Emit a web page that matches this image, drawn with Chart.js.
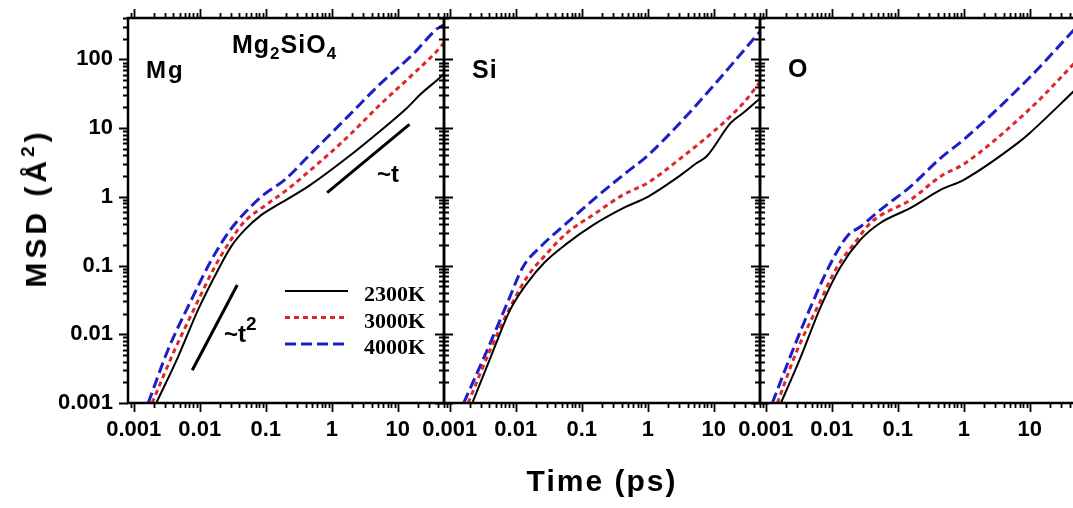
<!DOCTYPE html>
<html lang="en">
<head>
    <meta charset="UTF-8">
    <title>MSD Mg2SiO4</title>
    <style>
        body {
            margin: 0;
            width: 1073px;
            height: 508px;
            overflow: hidden;
            position: relative;
            background: #fff;
            font-family: "Liberation Sans", Arial, sans-serif;
        }

        canvas {
            position: absolute;
            top: 0;
        }

        .lbl {
            position: absolute;
            font-weight: bold;
            line-height: 1;
            color: #000;
            white-space: nowrap;
        }

        .lbl sub {
            font-size: 17px;
            vertical-align: -6px;
            line-height: 0;
        }

        .lbl sup {
            font-size: 19px;
            vertical-align: 12px;
            line-height: 0;
        }

        #ytitle {
            left: 36px;
            top: 208px;
            font-size: 30px;
            letter-spacing: 4px;
            transform: translate(-50%, -50%) rotate(-90deg);
        }

        #xtitle {
            left: 602px;
            top: 466px;
            font-size: 30px;
            letter-spacing: 2px;
            transform: translateX(-50%);
        }
    </style>
    <script src="https://cdn.jsdelivr.net/npm/chart.js"></script>
</head>
<body>
    <canvas id="mg" width="460" height="508" style="left:0px"></canvas>
    <canvas id="si" width="376" height="508" style="left:400px"></canvas>
    <canvas id="ox" width="376" height="508" style="left:716px"></canvas>

    <div class="lbl" style="left:146px; top:58px; font-size:24px; letter-spacing:2px">Mg</div>
    <div class="lbl" style="left:232px; top:32px; font-size:25px; letter-spacing:1px">Mg<sub>2</sub>SiO<sub>4</sub></div>
    <div class="lbl" style="left:472px; top:57px; font-size:25px; letter-spacing:1px">Si</div>
    <div class="lbl" style="left:788px; top:56px; font-size:25px">O</div>
    <div class="lbl" style="left:377px; top:162px; font-size:24px">~t</div>
    <div class="lbl" style="left:224px; top:322px; font-size:24px">~t<sup>2</sup></div>
    <div class="lbl" id="ytitle">MSD (Å<sup>2</sup>)</div>
    <div class="lbl" id="xtitle">Time (ps)</div>

    <script>
        // tick labels
        const xTickLabels = [0.001, 0.01, 0.1, 1, 10];
        const yTickLabels = [0.001, 0.01, 0.1, 1, 10, 100];
        const tempLabels = ['2300K', '3000K', '4000K'];

        // Mg
        const mgT2300 = [0.0022, 0.0047, 0.0095, 0.019, 0.030, 0.048, 0.087, 0.16, 0.44, 1.7, 5.4, 14, 22, 44, 50];
        const mgM2300 = [0.001, 0.0047, 0.023, 0.087, 0.19, 0.33, 0.55, 0.79, 1.42, 3.7, 9.1, 20, 31, 55, 62];
        const mgT3000 = [0.0019, 0.004, 0.0085, 0.017, 0.030, 0.048, 0.087, 0.195, 0.5, 1.7, 5.4, 17, 44, 50];
        const mgM3000 = [0.001, 0.0054, 0.025, 0.097, 0.24, 0.44, 0.69, 1.2, 2.55, 7.3, 22, 61, 150, 175];
        const mgT4000 = [0.00166, 0.0033, 0.0075, 0.015, 0.027, 0.043, 0.087, 0.195, 0.5, 1.7, 5.4, 17, 39, 50];
        const mgM4000 = [0.001, 0.0059, 0.032, 0.12, 0.30, 0.52, 1.02, 1.78, 4.4, 14.3, 44, 119, 277, 320];

        // Si
        const siT2300 = [0.0022, 0.0046, 0.0083, 0.015, 0.027, 0.06, 0.15, 0.43, 1, 3, 5.5, 7.8, 18, 28, 50];
        const siM2300 = [0.001, 0.0059, 0.023, 0.056, 0.11, 0.21, 0.39, 0.69, 1.0, 2.0, 3.1, 3.9, 11.9, 16.7, 27];
        const siT3000 = [0.0019, 0.0041, 0.0083, 0.015, 0.027, 0.06, 0.15, 0.43, 1, 3.1, 10, 18, 30, 50];
        const siM3000 = [0.001, 0.0059, 0.025, 0.069, 0.136, 0.30, 0.55, 1.08, 1.6, 3.6, 9, 15, 25, 47];
        const siT4000 = [0.00163, 0.0037, 0.0074, 0.013, 0.024, 0.06, 0.15, 0.43, 1, 3.1, 10, 50];
        const siM4000 = [0.001, 0.0059, 0.028, 0.097, 0.19, 0.42, 0.91, 2.1, 4.0, 12, 42, 255];

        // O
        const oT2300 = [0.0017, 0.0034, 0.0068, 0.0137, 0.0275, 0.055, 0.157, 0.45, 1, 6.6, 10, 50];
        const oM2300 = [0.001, 0.0047, 0.025, 0.097, 0.24, 0.42, 0.69, 1.27, 1.77, 6.1, 8.5, 37];
        const oT3000 = [0.0015, 0.003, 0.0061, 0.0122, 0.022, 0.039, 0.157, 0.45, 1, 10, 50];
        const oM3000 = [0.001, 0.0059, 0.025, 0.097, 0.21, 0.42, 0.91, 2.0, 3.0, 19, 93];
        const oT4000 = [0.00126, 0.0027, 0.0048, 0.0097, 0.0173, 0.0275, 0.055, 0.157, 0.45, 1, 10, 50];
        const oM4000 = [0.001, 0.0066, 0.025, 0.109, 0.27, 0.37, 0.65, 1.42, 3.7, 6.8, 55, 290];

        // guide lines ~t^2 and ~t
        const t2LineT = [0.0077, 0.037];
        const t2LineM = [0.0030, 0.052];
        const t1LineT = [0.85, 15];
        const t1LineM = [1.15, 11.3];

        const styles = [
            { color: '#000000', dash: [], width: 2 },
            { color: '#e0262b', dash: [5, 4], width: 3 },
            { color: '#1c1fc9', dash: [11, 5], width: 3 }
        ];

        function series(t, m, st) {
            return {
                data: t.map((v, i) => ({ x: v, y: m[i] })),
                borderColor: st.color,
                borderDash: st.dash,
                borderWidth: st.width,
                pointRadius: 0,
                fill: false,
                cubicInterpolationMode: 'monotone'
            };
        }

        function guide(t, m) {
            return {
                data: t.map((v, i) => ({ x: v, y: m[i] })),
                borderColor: '#000',
                borderWidth: 3,
                pointRadius: 0,
                fill: false
            };
        }

        // frame with log ticks on all four sides, pointing out
        const frameTicks = {
            id: 'frameTicks',
            afterDraw(chart) {
                const { ctx, chartArea: a } = chart;
                const x = chart.scales.x, y = chart.scales.y;
                ctx.save();
                ctx.strokeStyle = '#000';
                ctx.lineWidth = 1.8;
                ctx.beginPath();
                for (let d = -4; d <= 3; d++) {
                    for (let m = 1; m <= 9; m++) {
                        const v = m * Math.pow(10, d);
                        const len = m === 1 ? 9 : 5;
                        if (v >= x.min && v <= x.max) {
                            const px = Math.round(x.getPixelForValue(v)) + 0.5;
                            ctx.moveTo(px, a.bottom); ctx.lineTo(px, a.bottom + len);
                            ctx.moveTo(px, a.top); ctx.lineTo(px, a.top - len);
                        }
                        if (v >= y.min && v <= y.max) {
                            const py = Math.round(y.getPixelForValue(v)) + 0.5;
                            ctx.moveTo(a.left, py); ctx.lineTo(a.left - len, py);
                            ctx.moveTo(a.right, py); ctx.lineTo(a.right + len, py);
                        }
                    }
                }
                ctx.stroke();
                ctx.lineWidth = 2.5;
                ctx.strokeRect(a.left, a.top, a.right - a.left, a.bottom - a.top);
                ctx.restore();
            }
        };

        const tempLegend = {
            id: 'tempLegend',
            afterDatasetsDraw(chart) {
                const { ctx, chartArea: a } = chart;
                ctx.save();
                ctx.font = 'bold 22px "Liberation Serif", "Times New Roman", serif';
                ctx.fillStyle = '#000';
                ctx.textBaseline = 'alphabetic';
                tempLabels.forEach((txt, i) => {
                    const ly = a.top + 273 + i * 26.5;
                    const st = styles[i];
                    ctx.strokeStyle = st.color;
                    ctx.lineWidth = st.width;
                    ctx.setLineDash(st.dash);
                    ctx.beginPath();
                    ctx.moveTo(a.left + 157, ly);
                    ctx.lineTo(a.left + 220, ly);
                    ctx.stroke();
                    ctx.fillText(txt, a.left + 236, ly + 10);
                });
                ctx.restore();
            }
        };

        const tickFont = { family: '"Liberation Sans", Arial, sans-serif', size: 22, weight: 'bold' };

        function makeChart(id, sets, showY, padLeft, extraPlugins) {
            const ctx = document.getElementById(id).getContext('2d');
            return new Chart(ctx, {
                type: 'line',
                data: { datasets: sets },
                options: {
                    responsive: false,
                    animation: false,
                    layout: { padding: { left: padLeft, right: 16, top: 18, bottom: 0 } },
                    plugins: { legend: { display: false }, tooltip: { enabled: false } },
                    scales: {
                        x: {
                            type: 'logarithmic',
                            min: 0.00082,
                            max: 50,
                            afterBuildTicks: s => { s.ticks = xTickLabels.map(v => ({ value: v })); },
                            afterFit: s => { s.height = 105; },
                            grid: { display: false, drawTicks: false },
                            border: { display: false },
                            ticks: {
                                color: '#000', font: tickFont, padding: 14,
                                maxRotation: 0, autoSkip: false,
                                callback: v => String(v)
                            }
                        },
                        y: {
                            type: 'logarithmic',
                            display: showY,
                            min: 0.001,
                            max: 400,
                            afterBuildTicks: s => { s.ticks = yTickLabels.map(v => ({ value: v })); },
                            afterFit: s => { s.width = showY ? 128 : 0; },
                            grid: { display: false, drawTicks: true, tickLength: 13 },
                            border: { display: false },
                            ticks: {
                                color: '#000', font: tickFont, padding: 2,
                                autoSkip: false,
                                callback: v => String(v)
                            }
                        }
                    }
                },
                plugins: [frameTicks].concat(extraPlugins)
            });
        }

        makeChart('mg', [
            series(mgT2300, mgM2300, styles[0]),
            series(mgT3000, mgM3000, styles[1]),
            series(mgT4000, mgM4000, styles[2]),
            guide(t2LineT, t2LineM),
            guide(t1LineT, t1LineM)
        ], true, 0, [tempLegend]);

        makeChart('si', [
            series(siT2300, siM2300, styles[0]),
            series(siT3000, siM3000, styles[1]),
            series(siT4000, siM4000, styles[2])
        ], false, 44, []);

        makeChart('ox', [
            series(oT2300, oM2300, styles[0]),
            series(oT3000, oM3000, styles[1]),
            series(oT4000, oM4000, styles[2])
        ], false, 44, []);
    </script>
</body>
</html>
